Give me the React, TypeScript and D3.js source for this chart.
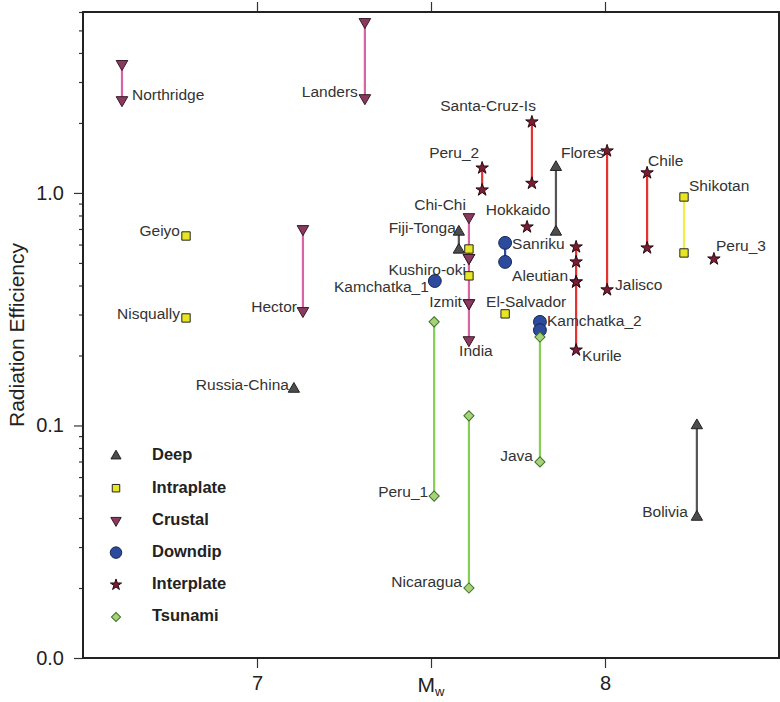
import { useEffect, useRef } from "react";
import * as d3 from "d3";

const width = 780;
const height = 702;
const margin = { top: 12, right: 1, bottom: 44, left: 83 };

type Ev = [string, number, number[]];

const categories = ["Deep", "Intraplate", "Crustal", "Downdip", "Interplate", "Tsunami"];

// [event, Mw, radiation efficiency estimates]
const deepEvents: Ev[] = [
  ["Russia-China", 7.106, [0.1435]],
  ["Fiji-Tonga", 7.58, [0.68, 0.569]],
  ["Flores", 7.859, [1.29, 0.68]],
  ["Bolivia", 8.264, [0.1, 0.0404]],
];
const intraplateEvents: Ev[] = [
  ["Geiyo", 6.796, [0.653]],
  ["Nisqually", 6.796, [0.29]],
  ["Kushiro-oki", 7.609, [0.574, 0.44]],
  ["El-Salvador", 7.713, [0.302]],
  ["Shikotan", 8.227, [0.961, 0.552]],
];
const crustalEvents: Ev[] = [
  ["Northridge", 6.612, [3.59, 2.51]],
  ["Landers", 7.31, [5.44, 2.56]],
  ["Hector", 7.132, [0.7, 0.311]],
  ["Chi-Chi", 7.609, [0.788, 0.526]],
  ["Izmit", 7.609, [0.526, 0.336]],
  ["India", 7.609, [0.336, 0.233]],
];
const downdipEvents: Ev[] = [
  ["Kamchatka_1", 7.511, [0.418]],
  ["Sanriku", 7.713, [0.61, 0.505]],
  ["Kamchatka_2", 7.813, [0.279, 0.257]],
];
const interplateEvents: Ev[] = [
  ["Peru_2", 7.647, [1.28, 1.03]],
  ["Santa-Cruz-Is", 7.79, [2.02, 1.1]],
  ["Hokkaido", 7.776, [0.714]],
  ["Aleutian", 7.917, [0.586, 0.505, 0.414]],
  ["Kurile", 7.917, [0.414, 0.211]],
  ["Jalisco", 8.006, [1.516, 0.383]],
  ["Chile", 8.121, [1.22, 0.58]],
  ["Peru_3", 8.313, [0.52]],
];
const tsunamiEvents: Ev[] = [
  ["Peru_1", 7.509, [0.279, 0.0497]],
  ["Nicaragua", 7.609, [0.11, 0.02]],
  ["Java", 7.813, [0.24, 0.0697]],
];

const eventsByCategory: Ev[][] = [
  deepEvents,
  intraplateEvents,
  crustalEvents,
  downdipEvents,
  interplateEvents,
  tsunamiEvents,
];

const yTicks = [0.01, 0.1, 1];
const xTicks = [7, 7.5, 8];

// label placement: [value index, dx, dy, anchor]
const labelPlace: Record<string, [number, number, number, string]> = {
  Northridge: [1, 10, -4, "start"],
  Landers: [1, -7, -5, "end"],
  Hector: [1, -6, -3, "end"],
  Geiyo: [0, -6, -4, "end"],
  Nisqually: [0, -6, -3, "end"],
  "Russia-China": [0, -5, -3, "end"],
  "Fiji-Tonga": [0, -3, -3, "end"],
  "Chi-Chi": [0, -3, -11, "end"],
  "Kushiro-oki": [1, -3, -5, "end"],
  Kamchatka_1: [0, -6, 7, "end"],
  Izmit: [1, -7, 0, "end"],
  India: [1, 7, 12, "middle"],
  "El-Salvador": [0, 21, -11, "middle"],
  Hokkaido: [0, -9, -16, "middle"],
  Sanriku: [0, 7, 2, "start"],
  "Santa-Cruz-Is": [0, 4, -15, "end"],
  Peru_2: [0, -3, -14, "end"],
  Flores: [0, 5, -13, "start"],
  Aleutian: [2, -8, -5, "end"],
  Jalisco: [1, 8, -4, "start"],
  Chile: [0, 1, -11, "start"],
  Shikotan: [0, 5, -10, "start"],
  Peru_3: [0, 2, -12, "start"],
  Kamchatka_2: [0, 7, 0, "start"],
  Kurile: [1, 6, 7, "start"],
  Peru_1: [1, -6, -3, "end"],
  Nicaragua: [1, -7, -5, "end"],
  Java: [1, -7, -5, "end"],
  Bolivia: [1, -9, -4, "end"],
};

const styles: Record<string, { symbol: d3.SymbolType; size: number; rotate: number; fill: string; stroke: string; line: string }> = {
  Deep: { symbol: d3.symbolTriangle, size: 55, rotate: 0, fill: "#4d4d4d", stroke: "#222", line: "#555555" },
  Intraplate: { symbol: d3.symbolSquare, size: 70, rotate: 0, fill: "#e8e622", stroke: "#222", line: "#f0ee4a" },
  Crustal: { symbol: d3.symbolTriangle, size: 58, rotate: 180, fill: "#8a3a5e", stroke: "#3a1a28", line: "#d864a6" },
  Downdip: { symbol: d3.symbolCircle, size: 130, rotate: 0, fill: "#2d4b9c", stroke: "#16264f", line: "#2d4b9c" },
  Interplate: { symbol: d3.symbolStar, size: 48, rotate: 0, fill: "#7a1d33", stroke: "#2a0a12", line: "#e4332e" },
  Tsunami: { symbol: d3.symbolSquare, size: 52, rotate: 45, fill: "#a8d27a", stroke: "#3b7326", line: "#86cf55" },
};

export default function App() {
  const svgRef = useRef<SVGSVGElement>(null);

  useEffect(() => {
    const svg = d3.select(svgRef.current);
    svg.selectAll("*").remove();

    const x = d3.scaleLinear().domain([6.5, 8.5]).range([margin.left, width - margin.right]);
    const y = d3.scaleLog().domain([0.01, 6]).range([height - margin.bottom, margin.top]);

    const font = "'Liberation Sans', Arial, Helvetica, sans-serif";
    const x0 = margin.left;
    const x1 = width - margin.right;
    const y0 = height - margin.bottom;
    const y1 = margin.top;

    // minor y ticks
    const minor: number[] = [];
    [0.01, 0.1, 1].forEach((d) => {
      for (let k = 2; k <= 9; k++) if (d * k <= 6) minor.push(d * k);
    });

    const yMinor = svg
      .append("g")
      .attr("transform", `translate(${x0},0)`)
      .call(d3.axisLeft(y).tickValues(minor).tickSize(4).tickFormat(() => ""));
    const yAxis = svg
      .append("g")
      .attr("transform", `translate(${x0},0)`)
      .call(
        d3.axisLeft(y).tickValues(yTicks).tickSize(9).tickPadding(10).tickFormat((d) => d3.format(".1f")(d as number))
      );
    const xAxis = svg
      .append("g")
      .attr("transform", `translate(0,${y0})`)
      .call(
        d3.axisBottom(x).tickValues(xTicks).tickSize(10).tickPadding(8).tickFormat((d) => (d === 7.5 ? "" : String(d)))
      );
    const xTop = svg
      .append("g")
      .attr("transform", `translate(0,${y1})`)
      .call(d3.axisTop(x).tickValues(xTicks).tickSize(10).tickFormat(() => ""));

    [yMinor, yAxis, xAxis, xTop].forEach((g) => {
      g.select(".domain").remove();
      g.selectAll(".tick line").attr("stroke", "#333").attr("stroke-width", 1.2);
      g.selectAll(".tick text").attr("fill", "#222").attr("font-family", font).attr("font-size", 20);
    });

    // Mw label under the 7.5 tick
    const mw = svg
      .append("text")
      .attr("x", x(7.5))
      .attr("y", y0 + 34)
      .attr("text-anchor", "middle")
      .attr("font-family", font)
      .attr("font-size", 21)
      .attr("fill", "#222");
    mw.append("tspan").text("M");
    mw.append("tspan").attr("font-size", 13).attr("dy", 4).text("w");

    svg
      .append("text")
      .attr("transform", `translate(18,${(y0 + y1) / 2}) rotate(-90)`)
      .attr("text-anchor", "middle")
      .attr("dominant-baseline", "middle")
      .attr("font-family", font)
      .attr("font-size", 21)
      .attr("fill", "#222")
      .text("Radiation Efficiency");

    const plot = svg.append("g");

    // range lines
    categories.forEach((cat, ci) => {
      const st = styles[cat];
      plot
        .selectAll(`line.l${ci}`)
        .data(eventsByCategory[ci].filter((e) => e[2].length > 1))
        .join("line")
        .attr("x1", (e) => x(e[1]))
        .attr("x2", (e) => x(e[1]))
        .attr("y1", (e) => y(d3.max(e[2]) as number))
        .attr("y2", (e) => y(d3.min(e[2]) as number))
        .attr("stroke", st.line)
        .attr("stroke-width", 2.2);
    });

    // markers
    categories.forEach((cat, ci) => {
      const st = styles[cat];
      const pts = eventsByCategory[ci].flatMap((e) => e[2].map((v) => ({ mw: e[1], v })));
      plot
        .selectAll(`path.m${ci}`)
        .data(pts)
        .join("path")
        .attr("d", d3.symbol().type(st.symbol).size(st.size)())
        .attr("transform", (p) => `translate(${x(p.mw)},${y(p.v)}) rotate(${st.rotate})`)
        .attr("fill", st.fill)
        .attr("stroke", st.stroke)
        .attr("stroke-width", 1);
    });

    // event labels
    const allEvents = eventsByCategory.flat();
    plot
      .selectAll("text.lab")
      .data(allEvents)
      .join("text")
      .attr("class", "lab")
      .attr("x", (e) => x(e[1]) + labelPlace[e[0]][1])
      .attr("y", (e) => y(e[2][labelPlace[e[0]][0]]) + labelPlace[e[0]][2])
      .attr("dominant-baseline", "middle")
      .attr("text-anchor", (e) => labelPlace[e[0]][3])
      .attr("font-family", font)
      .attr("font-size", 15.5)
      .attr("fill", "#333")
      .text((e) => e[0]);

    // frame
    svg
      .append("rect")
      .attr("x", x0)
      .attr("y", y1)
      .attr("width", x1 - x0)
      .attr("height", y0 - y1)
      .attr("fill", "none")
      .attr("stroke", "#222")
      .attr("stroke-width", 2);

    // legend
    const legendY = d3.scalePoint().domain(categories).range([456, 617]);
    const legend = svg.append("g");
    categories.forEach((cat) => {
      const st = styles[cat];
      legend
        .append("path")
        .attr("d", d3.symbol().type(st.symbol).size(st.size * 0.8)())
        .attr("transform", `translate(116,${legendY(cat)}) rotate(${st.rotate})`)
        .attr("fill", st.fill)
        .attr("stroke", st.stroke)
        .attr("stroke-width", 1);
      legend
        .append("text")
        .attr("x", 152)
        .attr("y", legendY(cat) as number)
        .attr("dominant-baseline", "middle")
        .attr("font-family", font)
        .attr("font-weight", "bold")
        .attr("font-size", 16.5)
        .attr("fill", "#222")
        .text(cat);
    });
  }, []);

  return (
    <svg
      ref={svgRef}
      width={width}
      height={height}
      style={{ position: "absolute", left: 0, top: 0, background: "#fff" }}
    />
  );
}
